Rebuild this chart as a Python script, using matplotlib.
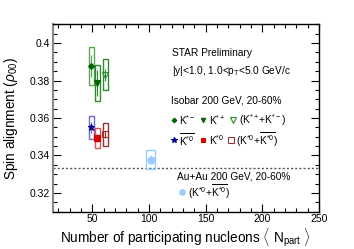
import matplotlib
matplotlib.use("Agg")
import matplotlib.pyplot as plt
from matplotlib.patches import Rectangle
from matplotlib.ticker import MultipleLocator

plt.rcParams['font.family'] = ['Liberation Sans', 'DejaVu Sans']
plt.rcParams['mathtext.fontset'] = 'custom'
plt.rcParams['mathtext.rm'] = 'Liberation Sans'
plt.rcParams['mathtext.it'] = 'Liberation Sans:italic'
plt.rcParams['mathtext.bf'] = 'Liberation Sans:bold'

# ---- data ----
labels = ["K*-", "K*+", "K*+ + K*-", "anti-K*0", "K*0", "K*0 + anti-K*0", "AuAu K*0"]
npart = [49, 54.5, 61.5, 49, 54.5, 61.5, 101.5]
rho00 = [0.3877, 0.3788, 0.3830, 0.3550, 0.3492, 0.3512, 0.3378]
stat_err = [0.0060, 0.0070, 0.0030, 0.0030, 0.0020, 0.0020, 0.0025]
sys_err = [0.0103, 0.0096, 0.0083, 0.0060, 0.0053, 0.0060, 0.0050]
box_halfwidth = [2.2, 2.2, 2.2, 2.2, 2.2, 2.2, 3.8]
markers = ["D", "v", "v", "*", "s", "s", "o"]
marker_colors = ["#006400", "#006400", "none", "#00008b", "#dd0000", "none", "#99ccff"]
edge_colors = ["#006400", "#006400", "#2e8b2e", "#00008b", "#dd0000", "#993333", "#99ccff"]
box_colors = ["#5aa55a", "#2e8b2e", "#2e8b2e", "#6a6ad0", "#e05050", "#993333", "#99ccff"]
marker_sizes = [3, 4, 5, 5, 4, 5, 5]
ref_value = 1.0 / 3.0

fig = plt.figure(figsize=(3.54, 2.49), dpi=100)
ax = fig.add_axes([52.7 / 354, 1 - 211.7 / 249, 266.3 / 354, 187.4 / 249])

for i in range(len(npart)):
    x, y = npart[i], rho00[i]
    hw, se = box_halfwidth[i], sys_err[i]
    ax.add_patch(Rectangle((x - hw, y - se), 2 * hw, 2 * se, fill=False,
                           edgecolor=box_colors[i], lw=1.0, zorder=2))
    ax.errorbar([x], [y], yerr=[stat_err[i]], fmt="none", ecolor=box_colors[i],
                elinewidth=0.8, capsize=0, zorder=3)
    ax.plot([x], [y], marker=markers[i], ms=marker_sizes[i], mfc=marker_colors[i],
            mec=edge_colors[i], mew=0.8, ls="none", zorder=4)

ax.axhline(ref_value, color="#555555", ls=(0, (1.5, 1.5)), lw=1.0, zorder=1)

ax.set_xlim(15, 250)
ax.set_ylim(0.31, 0.41)
ax.xaxis.set_major_locator(MultipleLocator(50))
ax.xaxis.set_minor_locator(MultipleLocator(10))
ax.yaxis.set_major_locator(MultipleLocator(0.02))
ax.yaxis.set_minor_locator(MultipleLocator(0.005))
ax.tick_params(which="both", direction="in", top=True, right=True, labelsize=7.5, pad=2)
ax.tick_params(which="major", length=6, width=0.8)
ax.tick_params(which="minor", length=3, width=0.8)
ax.set_yticks([0.32, 0.34, 0.36, 0.38, 0.40])
ax.set_yticklabels(["0.32", "0.34", "0.36", "0.38", "0.4"])
for s in ax.spines.values():
    s.set_linewidth(1.0)
ax.spines["left"].set_color("#888888")
ax.spines["left"].set_linewidth(1.5)

ax.set_xlabel(r"Number of participating nucleons $\langle$ N$_{\mathregular{part}}$ $\rangle$",
              fontsize=9.8, labelpad=1)
ax.set_ylabel(r"Spin alignment ($\rho_{\mathregular{00}}$)", fontsize=9.8, labelpad=7)

# ---- legend / annotations ----
fs = 7.3
T = ax.transAxes
ax.text(0.447, 0.847, "STAR Preliminary", transform=T, fontsize=fs, va="center")
ax.text(0.447, 0.751, r"|y|<1.0, 1.0<p$_{\mathregular{T}}$<5.0 GeV/c", transform=T, fontsize=fs, va="center")
ax.text(0.443, 0.592, "Isobar 200 GeV, 20-60%", transform=T, fontsize=fs, va="center")

leg_entries = [
    (0.455, 0.489, 0, r"$\mathregular{K^{*-}}$"),
    (0.566, 0.489, 1, r"$\mathregular{K^{*+}}$"),
    (0.678, 0.489, 2, r"($\mathregular{K^{*+}}$+$\mathregular{K^{*-}}$)"),
    (0.455, 0.383, 3, r"$\mathregular{\overline{K^{*0}}}$"),
    (0.566, 0.383, 4, r"$\mathregular{K^{*0}}$"),
    (0.670, 0.383, 5, r"($\mathregular{K^{*0}}$+$\mathregular{\overline{K^{*0}}}$)"),
    (0.487, 0.105, 6, r"($\mathregular{K^{*0}}$+$\mathregular{\overline{K^{*0}}}$)"),
]
for lx, ly, i, txt in leg_entries:
    ax.plot([lx], [ly], marker=markers[i], ms=marker_sizes[i] * 0.8, mfc=marker_colors[i],
            mec=edge_colors[i], mew=0.8, transform=T, clip_on=False)
    ax.text(lx + 0.02, ly, txt, transform=T, fontsize=fs, va="center")

ax.text(0.466, 0.190, "Au+Au 200 GeV, 20-60%", transform=T, fontsize=fs, va="center")

fig.savefig("out.png", dpi=100)
